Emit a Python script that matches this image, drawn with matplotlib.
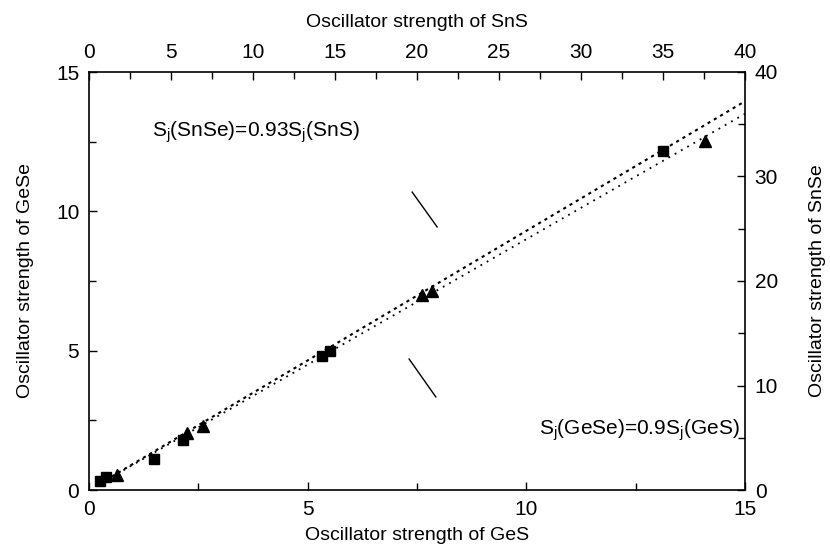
import numpy as np
import matplotlib
matplotlib.use("Agg")
import matplotlib.pyplot as plt

plt.rcParams['font.family'] = ['Liberation Sans', 'DejaVu Sans']
plt.rcParams['mathtext.fontset'] = 'custom'
plt.rcParams['mathtext.rm'] = 'Liberation Sans'
plt.rcParams['mathtext.it'] = 'Liberation Sans'

# GeS / GeSe pairs (triangles, bottom + left axes)
ges = [0.64, 2.24, 2.61, 7.61, 7.84, 14.09]
gese = [0.54, 2.05, 2.30, 7.00, 7.14, 12.52]

# SnS / SnSe pairs (squares, top + right axes)
sns = [0.67, 1.04, 3.96, 5.73, 14.2, 14.7, 35.0]
snse = [0.86, 1.24, 2.97, 4.78, 12.8, 13.3, 32.4]

k_ge = 0.9   # S_j(GeSe)=0.9 S_j(GeS)
k_sn = 0.93  # S_j(SnSe)=0.93 S_j(SnS)

fig = plt.figure(figsize=(8.3, 5.5), dpi=100)
pos = [89/830, 1-490/550, 656/830, 418/550]
ax = fig.add_axes(pos)
ax2 = fig.add_axes(pos, frameon=False)

# GeS axes
ax.plot(ges, gese, '^', color='black', markersize=8)
xf = np.array([0.5, 15])
ax.plot(xf, k_ge*xf, color='black', lw=1.3, linestyle=(0, (1, 3)))
ax.set_xlim(0, 15)
ax.set_ylim(0, 15)
ax.set_xticks([0, 5, 10, 15])
ax.set_yticks([0, 5, 10, 15])
ax.set_xticks([2.5, 7.5, 12.5], minor=True)
ax.set_yticks([2.5, 7.5, 12.5], minor=True)
ax.set_xlabel('Oscillator strength of GeS', fontsize=14, labelpad=6)
ax.set_ylabel('Oscillator strength of GeSe', fontsize=14, labelpad=16)

# SnS axes
ax2.plot(sns, snse, 's', color='black', markersize=7)
xs = np.array([1.0, 40])
ax2.plot(xs, k_sn*xs, color='black', lw=1.5, linestyle=(0, (1.5, 2)))
ax2.set_xlim(0, 40)
ax2.set_ylim(0, 40)
ax2.xaxis.tick_top()
ax2.yaxis.tick_right()
ax2.xaxis.set_label_position('top')
ax2.yaxis.set_label_position('right')
ax2.set_xticks(np.arange(0, 41, 5))
ax2.set_xticks(np.arange(2.5, 40, 5), minor=True)
ax2.set_yticks([0, 10, 20, 30, 40])
ax2.set_yticks([5, 15, 25, 35], minor=True)
ax2.set_xlabel('Oscillator strength of SnS', fontsize=14, labelpad=12)
ax2.set_ylabel('Oscillator strength of SnSe', fontsize=14, labelpad=22)

for a in (ax, ax2):
    a.tick_params(which='major', direction='in', length=6, width=1, labelsize=15, pad=7)
    a.tick_params(which='minor', direction='in', length=5, width=1)
for s in ax.spines.values():
    s.set_linewidth(1.2)

# annotations
ax.text(1.45, 12.85, r'S$_\mathrm{j}$(SnSe)=0.93S$_\mathrm{j}$(SnS)', fontsize=15, va='center')
ax.text(10.3, 2.15, r'S$_\mathrm{j}$(GeSe)=0.9S$_\mathrm{j}$(GeS)', fontsize=15, va='center')
ax.plot([7.39, 7.96], [10.69, 9.44], color='black', lw=1)
ax.plot([7.32, 7.93], [4.70, 3.34], color='black', lw=1)

fig.savefig('out.png', dpi=100)
